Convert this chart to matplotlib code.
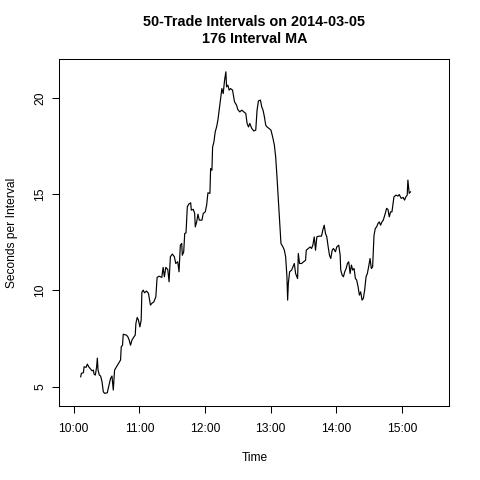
import datetime
import matplotlib
matplotlib.use('Agg')
import matplotlib.pyplot as plt
import matplotlib.dates as mdates

# minutes after 10:00 and the 176-interval moving average (seconds per interval)
minutes = [6.37, 7.01, 8.83, 9.47, 11.29, 12.47, 13.66, 14.93, 16.75, 17.94,
           18.57, 19.76, 20.94, 21.58, 22.22, 23.40, 24.58, 25.86, 27.04, 28.23,
           30.68, 31.87, 33.69, 34.96, 36.15, 37.33, 39.15, 40.97, 42.79, 43.43,
           44.61, 45.25, 48.26, 49.53, 50.71, 51.90, 53.17, 54.99, 56.18, 56.82,
           58.00, 59.18, 60.46, 61.64, 62.28, 63.46, 64.65, 66.47, 68.29, 70.11,
           71.38, 73.20, 75.03, 76.21, 78.03, 80.49, 81.67, 82.86, 84.13, 85.95,
           87.13, 88.32, 90.14, 91.96, 93.24, 95.06, 96.24, 97.42, 98.70, 99.24,
           100.52, 101.43, 102.61, 103.80, 105.07, 106.89, 107.44, 109.26, 110.53, 111.08,
           112.36, 113.54, 114.72, 117.18, 118.37, 120.19, 121.46, 122.64, 124.46, 125.10,
           126.29, 126.92, 128.11, 129.29, 130.57, 131.75, 132.93, 134.21, 135.39, 136.58,
           137.85, 139.03, 139.67, 140.85, 142.04, 143.31, 145.13, 146.95, 148.78, 149.96,
           151.78, 153.60, 155.42, 157.24, 158.43, 159.70, 160.88, 162.71, 164.53, 166.35,
           167.53, 168.81, 170.63, 171.81, 173.00, 174.27, 175.45, 176.64, 178.46, 180.28,
           182.10, 183.37, 184.56, 185.74, 187.02, 188.20, 189.38, 191.21, 192.48, 193.66,
           194.85, 195.48, 196.12, 197.30, 199.13, 200.31, 201.58, 202.77, 204.59, 205.23,
           206.41, 208.23, 210.05, 211.87, 212.51, 214.33, 216.15, 217.34, 218.52, 219.79,
           220.98, 222.16, 223.98, 226.44, 227.63, 228.90, 230.08, 231.27, 232.54, 233.73,
           234.91, 236.18, 237.37, 239.19, 240.37, 242.19, 243.47, 244.01, 245.29, 246.47,
           247.66, 248.93, 250.11, 251.30, 252.57, 253.76, 254.94, 256.21, 257.40, 258.58,
           259.86, 261.04, 262.22, 263.50, 264.68, 265.87, 267.14, 268.32, 269.51, 270.78,
           271.97, 273.15, 274.42, 275.61, 276.79, 278.07, 279.25, 280.43, 281.71, 282.89,
           284.71, 285.90, 287.17, 288.36, 289.54, 290.81, 292.63, 294.46, 296.28, 297.46,
           299.28, 301.10, 302.29, 303.56, 304.74, 305.38, 306.57, 307.75]
secs = [5.52, 5.70, 5.73, 6.04, 6.01, 6.18, 6.04, 5.95, 5.83, 5.87,
        5.66, 5.61, 6.04, 6.49, 5.87, 5.61, 5.56, 5.26, 4.74, 4.66,
        4.69, 5.00, 5.44, 5.56, 4.83, 5.87, 6.04, 6.21, 6.39, 7.08,
        7.16, 7.73, 7.68, 7.59, 7.42, 7.16, 7.42, 7.59, 7.68, 8.29,
        8.60, 8.46, 8.11, 8.46, 9.91, 10.02, 9.88, 9.97, 9.85, 9.24,
        9.33, 9.41, 9.67, 10.68, 10.74, 10.68, 11.20, 10.71, 11.20, 11.09,
        10.45, 11.75, 11.89, 11.75, 11.40, 11.49, 10.97, 12.35, 12.44, 11.83,
        12.01, 12.96, 12.99, 14.34, 14.48, 14.55, 14.17, 14.21, 14.00, 13.30,
        13.56, 13.96, 13.65, 13.65, 14.00, 14.08, 14.43, 15.07, 15.04, 16.33,
        16.24, 17.45, 17.71, 18.23, 18.49, 18.84, 19.36, 19.88, 20.48, 20.22,
        20.91, 21.35, 20.57, 20.66, 20.40, 20.48, 20.40, 19.79, 19.62, 19.39,
        19.27, 19.36, 19.27, 19.19, 18.67, 18.49, 18.67, 18.41, 18.28, 18.32,
        19.36, 19.84, 19.88, 19.53, 19.36, 19.01, 18.58, 18.49, 18.41, 18.32,
        17.89, 17.54, 16.93, 15.90, 14.69, 13.65, 12.44, 12.26, 12.09, 11.75,
        10.71, 9.50, 10.37, 10.97, 11.06, 11.23, 11.40, 10.88, 10.62, 11.92,
        11.40, 11.40, 11.49, 11.57, 12.09, 12.18, 12.26, 12.18, 12.35, 12.78,
        12.09, 12.78, 12.82, 12.82, 13.13, 13.39, 12.96, 12.78, 12.26, 11.83,
        11.66, 12.09, 12.18, 12.01, 12.26, 12.35, 11.83, 11.06, 10.80, 10.71,
        10.97, 11.14, 11.40, 11.49, 10.88, 11.32, 11.06, 11.14, 10.62, 10.54,
        10.19, 9.76, 9.93, 9.50, 9.59, 10.02, 10.71, 10.88, 11.23, 11.66,
        11.14, 11.23, 12.87, 13.22, 13.30, 13.48, 13.56, 13.39, 13.56, 13.65,
        14.00, 14.26, 14.21, 13.82, 14.08, 14.08, 14.86, 14.95, 14.90, 14.98,
        14.78, 14.83, 14.69, 14.86, 14.95, 15.73, 15.04, 15.12]
y_ticks = [5, 10, 15, 20]

day = datetime.datetime(2014, 3, 5, 10, 0)
times = [day + datetime.timedelta(minutes=m) for m in minutes]

plt.rcParams['font.family'] = ['Liberation Sans', 'DejaVu Sans']

fig = plt.figure(figsize=(4.8, 4.8), dpi=100)
ax = fig.add_axes([0.1235, 0.154, 0.8125, 0.7225])
ax.plot(times, secs, color='black', lw=0.85)

# x range like R: 10:00-15:30 padded by 4%
x0 = day
x1 = day + datetime.timedelta(hours=5, minutes=30)
pad = (x1 - x0) * 0.04
ax.set_xlim(x0 - pad, x1 + pad)
ax.set_ylim(4.0, 22.0)

ax.set_xticks([day + datetime.timedelta(hours=h) for h in range(6)])
ax.xaxis.set_major_formatter(mdates.DateFormatter('%H:%M'))
ax.set_yticks(y_ticks)
ax.set_yticklabels([str(v) for v in y_ticks], rotation=90, va='center')

ax.tick_params(direction='out', length=5.2, width=0.75, labelsize=8.64)
ax.tick_params(axis='x', pad=7)
ax.tick_params(axis='y', pad=4)
for s in ax.spines.values():
    s.set_linewidth(0.75)

ax.set_xlabel('Time', fontsize=8.64, labelpad=12)
ax.set_ylabel('Seconds per Interval', fontsize=8.64, labelpad=12)
ax.set_title('50-Trade Intervals on 2014-03-05\n176 Interval MA',
             fontsize=10.4, fontweight='bold', pad=12)

fig.savefig('out.png', dpi=100)
